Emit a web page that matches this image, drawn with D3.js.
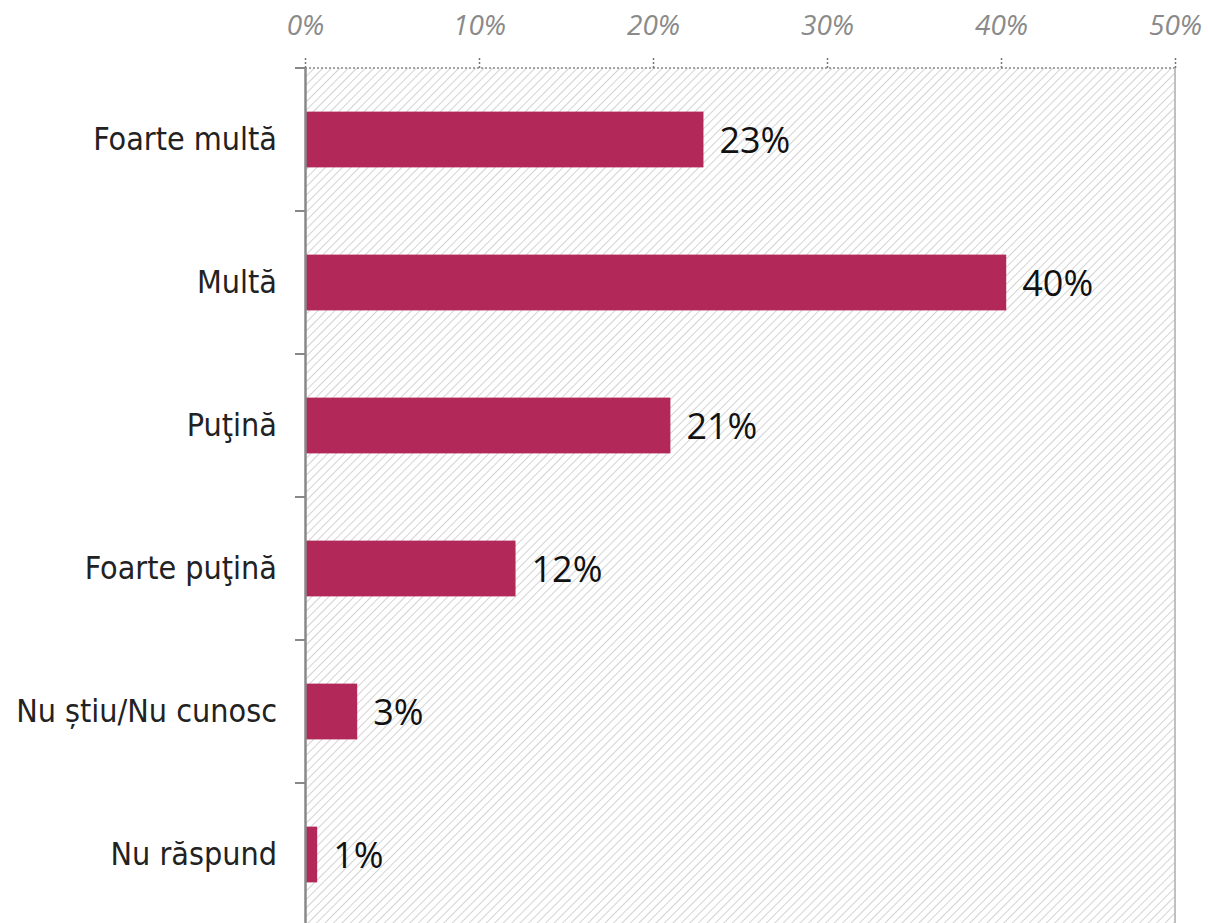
<!DOCTYPE html>
<html><head><meta charset="utf-8">
<script src="https://cdn.jsdelivr.net/npm/d3@7"></script>
<style>body{margin:0;background:#fff}</style>
</head><body>
<svg id="c" width="1208" height="923"></svg>
<script>
const categories = ["Foarte multă","Multă","Puţină","Foarte puţină","Nu știu/Nu cunosc","Nu răspund"];
const values = [22.9, 40.3, 21.0, 12.1, 3.0, 0.7];
const valueLabels = ["23%","40%","21%","12%","3%","1%"];
const xTicks = [0,10,20,30,40,50];

const svg = d3.select("#c");
const m = {left:305, top:68, right:1175, bottom:926};
const x = d3.scaleLinear().domain([0,50]).range([m.left, m.right]);
const y = d3.scaleBand().domain(categories).range([m.top, m.bottom]).paddingInner(0.61).paddingOuter(0.305);
const yb = d3.scaleBand().domain(categories).range([m.top, m.bottom]);

const defs = svg.append("defs");
const pat = defs.append("pattern").attr("id","hatch").attr("patternUnits","userSpaceOnUse")
  .attr("width",6).attr("height",6).attr("patternTransform","rotate(45)");
pat.append("line").attr("x1",0).attr("y1",0).attr("x2",0).attr("y2",6)
  .attr("stroke","#c4c4c4").attr("stroke-width",1.5);

svg.append("rect").attr("x",m.left).attr("y",m.top).attr("width",m.right-m.left).attr("height",m.bottom-m.top)
  .attr("fill","url(#hatch)");

svg.append("line").attr("x1",m.left).attr("x2",m.right).attr("y1",m.top).attr("y2",m.top)
  .attr("stroke","#888").attr("stroke-width",1.3).attr("stroke-dasharray","2,2");
svg.append("line").attr("x1",m.right).attr("x2",m.right).attr("y1",m.top).attr("y2",m.bottom)
  .attr("stroke","#c0c0c0").attr("stroke-width",2);

const xAxis = d3.axisTop(x).tickValues(xTicks).tickFormat(d=>d+"%").tickSize(10).tickPadding(23);
const gx = svg.append("g").attr("transform",`translate(0,${m.top})`).call(xAxis);
gx.select(".domain").remove();
gx.selectAll(".tick line").attr("stroke","#777").attr("stroke-width",1.5).attr("stroke-dasharray","2,2");
gx.selectAll(".tick text").attr("fill","#8a8a8a").attr("font-style","italic")
  .attr("font-family","'Open Sans', 'Noto Sans', sans-serif").attr("font-size",28);

svg.selectAll("rect.bar").data(categories).enter().append("rect").attr("class","bar")
  .attr("x",x(0)).attr("y",d=>y(d)).attr("height",y.bandwidth())
  .attr("width",(d,i)=>x(values[i])-x(0)).attr("fill","#b22858");

svg.selectAll("text.val").data(categories).enter().append("text").attr("class","val")
  .attr("x",(d,i)=>x(values[i])+16).attr("y",d=>y(d)+y.bandwidth()/2).attr("dy","0.38em")
  .attr("font-family","'Open Sans', 'Noto Sans', sans-serif").attr("font-size",36).attr("fill","#111")
  .text((d,i)=>valueLabels[i]);

const yAxis = d3.axisLeft(yb).tickSize(0).tickPadding(28);
const gy = svg.append("g").attr("transform",`translate(${m.left},0)`).call(yAxis);
gy.select(".domain").attr("stroke","#888").attr("stroke-width",2.5);
gy.selectAll(".tick text").attr("fill","#222").attr("font-family","'DejaVu Sans Condensed', 'DejaVu Sans', sans-serif")
  .attr("font-stretch","condensed").attr("font-size",32);
const seps = categories.slice(1);
gy.selectAll("line.sep").data(seps).enter().append("line").attr("class","sep")
  .attr("x1",-10).attr("x2",0).attr("y1",d=>yb(d)).attr("y2",d=>yb(d))
  .attr("stroke","#888").attr("stroke-width",2);
gy.append("line").attr("x1",-10).attr("x2",0).attr("y1",m.top).attr("y2",m.top).attr("stroke","#888").attr("stroke-width",2);
</script>
</body></html>
